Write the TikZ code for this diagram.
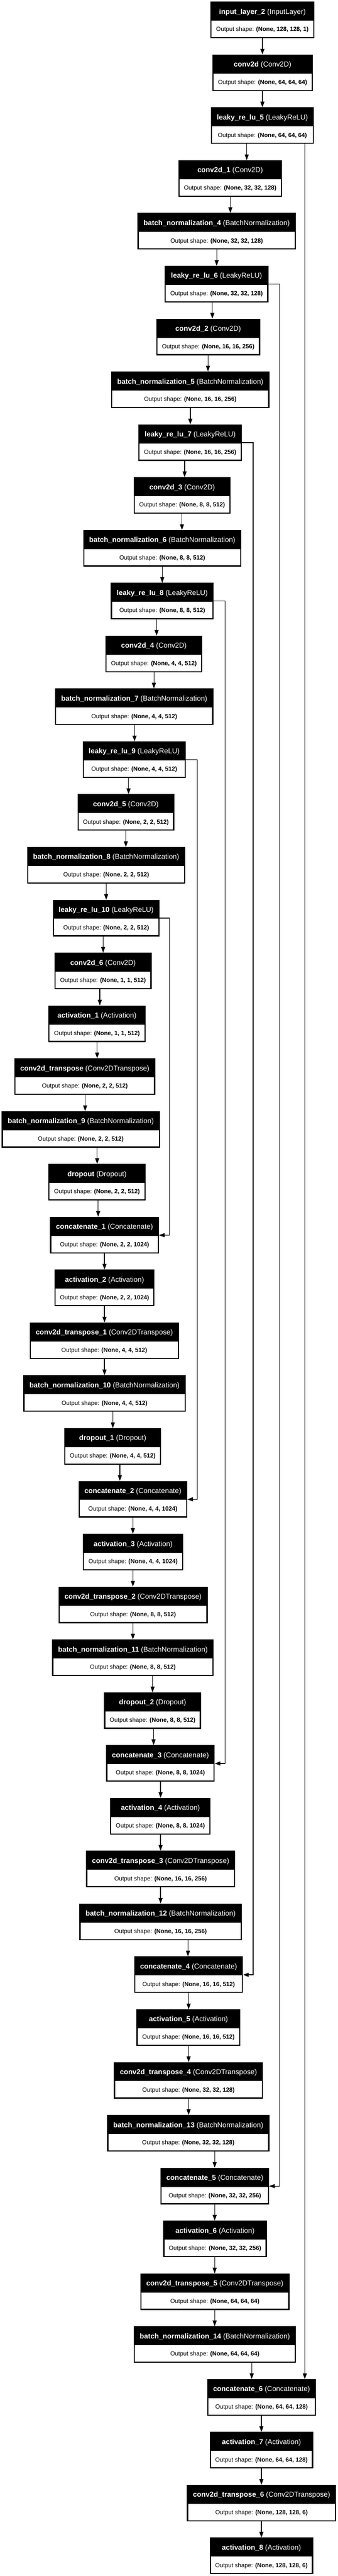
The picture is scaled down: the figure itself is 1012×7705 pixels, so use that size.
\documentclass[tikz,border=0pt]{standalone}
\usepackage{fontspec}
\setmainfont{Liberation Sans}
\usetikzlibrary{arrows.meta}
\tikzset{
  lbox/.style={fill=black, draw=none, inner sep=0pt, outer sep=0pt, minimum height=109.5pt, anchor=north west},
  htext/.style={text=white, inner sep=0pt, outer sep=0pt, font=\fontsize{21.4}{25}\selectfont, anchor=base},
  btext/.style={text=black, inner sep=0pt, outer sep=0pt, font=\fontsize{18}{22}\selectfont, anchor=base},
  arr/.style={draw=black, line width=2pt, -{Triangle[length=17pt,width=12pt]}},
}
\newcommand{\lyr}[7]{%
  \pgfmathsetmacro\lyrtop{5+158.02*(#4-1)}%
  \pgfmathsetmacro\lyrwid{#3-#2}%
  \node[lbox, minimum width=\lyrwid pt] (#1) at (#2,\lyrtop) {};
  \fill[white] ([xshift=3.5pt,yshift=-57pt]#1.north west) rectangle ([xshift=-3.5pt,yshift=3.5pt]#1.south east);
  \node[htext] (#1h) at ([yshift=-37pt]#1.north) {\textbf{#5} (#6)};
  \node[btext] (#1b) at ([yshift=-89pt]#1.north) {Output shape: \textbf{#7}};
}
\newcommand{\con}[3]{\draw[arr] (#1.south -| #3,0) -- (#2.north -| #3,0);}
\newcommand{\skipc}[5]{%
  \pgfmathsetmacro\skout{5+158.02*(#4-1)+54.5}%
  \pgfmathsetmacro\skin{5+158.02*(#5-1)+55}%
  \draw[arr] (#1.east |- 0,\skout) -| (#3,\skin) -- (#2.east |- 0,\skin);}
\begin{document}
\begin{tikzpicture}[x=1pt,y=-1pt]
\useasboundingbox (0,0) rectangle (1012,7705);
\lyr{inp}{630}{942}{1}{input\_layer\_2}{InputLayer}{(None, 128, 128, 1)}
\lyr{cv0}{636}{937}{2}{conv2d}{Conv2D}{(None, 64, 64, 64)}
\lyr{lr5}{632}{940}{3}{leaky\_re\_lu\_5}{LeakyReLU}{(None, 64, 64, 64)}
\lyr{cv1}{534}{845}{4}{conv2d\_1}{Conv2D}{(None, 32, 32, 128)}
\lyr{bn4}{412}{886}{5}{batch\_normalization\_4}{BatchNormalization}{(None, 32, 32, 128)}
\lyr{lr6}{493}{804}{6}{leaky\_re\_lu\_6}{LeakyReLU}{(None, 32, 32, 128)}
\lyr{cv2}{468}{779}{7}{conv2d\_2}{Conv2D}{(None, 16, 16, 256)}
\lyr{bn5}{333}{807}{8}{batch\_normalization\_5}{BatchNormalization}{(None, 16, 16, 256)}
\lyr{lr7}{414}{725}{9}{leaky\_re\_lu\_7}{LeakyReLU}{(None, 16, 16, 256)}
\lyr{cv3}{400}{691}{10}{conv2d\_3}{Conv2D}{(None, 8, 8, 512)}
\lyr{bn6}{249}{723}{11}{batch\_normalization\_6}{BatchNormalization}{(None, 8, 8, 512)}
\lyr{lr8}{332}{640}{12}{leaky\_re\_lu\_8}{LeakyReLU}{(None, 8, 8, 512)}
\lyr{cv4}{316}{606}{13}{conv2d\_4}{Conv2D}{(None, 4, 4, 512)}
\lyr{bn7}{165}{639}{14}{batch\_normalization\_7}{BatchNormalization}{(None, 4, 4, 512)}
\lyr{lr9}{248}{556}{15}{leaky\_re\_lu\_9}{LeakyReLU}{(None, 4, 4, 512)}
\lyr{cv5}{232}{522}{16}{conv2d\_5}{Conv2D}{(None, 2, 2, 512)}
\lyr{bn8}{81}{555}{17}{batch\_normalization\_8}{BatchNormalization}{(None, 2, 2, 512)}
\lyr{lr10}{158}{478}{18}{leaky\_re\_lu\_10}{LeakyReLU}{(None, 2, 2, 512)}
\lyr{cv6}{163}{454}{19}{conv2d\_6}{Conv2D}{(None, 1, 1, 512)}
\lyr{ac1}{145}{436}{20}{activation\_1}{Activation}{(None, 1, 1, 512)}
\lyr{ct0}{43}{465}{21}{conv2d\_transpose}{Conv2DTranspose}{(None, 2, 2, 512)}
\lyr{bn9}{5}{479}{22}{batch\_normalization\_9}{BatchNormalization}{(None, 2, 2, 512)}
\lyr{dr0}{145}{436}{23}{dropout}{Dropout}{(None, 2, 2, 512)}
\lyr{cc1}{150}{476}{24}{concatenate\_1}{Concatenate}{(None, 2, 2, 1024)}
\lyr{ac2}{163}{463}{25}{activation\_2}{Activation}{(None, 2, 2, 1024)}
\lyr{ct1}{89}{536}{26}{conv2d\_transpose\_1}{Conv2DTranspose}{(None, 4, 4, 512)}
\lyr{bn10}{70}{556}{27}{batch\_normalization\_10}{BatchNormalization}{(None, 4, 4, 512)}
\lyr{dr1}{192}{483}{28}{dropout\_1}{Dropout}{(None, 4, 4, 512)}
\lyr{cc2}{235}{561}{29}{concatenate\_2}{Concatenate}{(None, 4, 4, 1024)}
\lyr{ac3}{248}{549}{30}{activation\_3}{Activation}{(None, 4, 4, 1024)}
\lyr{ct2}{175}{622}{31}{conv2d\_transpose\_2}{Conv2DTranspose}{(None, 8, 8, 512)}
\lyr{bn11}{156}{640}{32}{batch\_normalization\_11}{BatchNormalization}{(None, 8, 8, 512)}
\lyr{dr2}{312}{602}{33}{dropout\_2}{Dropout}{(None, 8, 8, 512)}
\lyr{cc3}{318}{643}{34}{concatenate\_3}{Concatenate}{(None, 8, 8, 1024)}
\lyr{ac4}{330}{631}{35}{activation\_4}{Activation}{(None, 8, 8, 1024)}
\lyr{ct3}{258}{704}{36}{conv2d\_transpose\_3}{Conv2DTranspose}{(None, 16, 16, 256)}
\lyr{bn12}{238}{724}{37}{batch\_normalization\_12}{BatchNormalization}{(None, 16, 16, 256)}
\lyr{cc4}{402}{728}{38}{concatenate\_4}{Concatenate}{(None, 16, 16, 512)}
\lyr{ac5}{409}{720}{39}{activation\_5}{Activation}{(None, 16, 16, 512)}
\lyr{ct4}{341}{788}{40}{conv2d\_transpose\_4}{Conv2DTranspose}{(None, 32, 32, 128)}
\lyr{bn13}{321}{807}{41}{batch\_normalization\_13}{BatchNormalization}{(None, 32, 32, 128)}
\lyr{cc5}{481}{806}{42}{concatenate\_5}{Concatenate}{(None, 32, 32, 256)}
\lyr{ac6}{489}{799}{43}{activation\_6}{Activation}{(None, 32, 32, 256)}
\lyr{ct5}{420}{867}{44}{conv2d\_transpose\_5}{Conv2DTranspose}{(None, 64, 64, 64)}
\lyr{bn14}{401}{886}{45}{batch\_normalization\_14}{BatchNormalization}{(None, 64, 64, 64)}
\lyr{cc6}{621}{946}{46}{concatenate\_6}{Concatenate}{(None, 64, 64, 128)}
\lyr{ac7}{628}{938}{47}{activation\_7}{Activation}{(None, 64, 64, 128)}
\lyr{ct6}{560}{1007}{48}{conv2d\_transpose\_6}{Conv2DTranspose}{(None, 128, 128, 6)}
\lyr{ac8}{628}{938}{49}{activation\_8}{Activation}{(None, 128, 128, 6)}
% sequential connectors
\con{inp}{cv0}{786}
\con{cv0}{lr5}{786}
\con{lr5}{cv1}{739}
\con{cv1}{bn4}{690}
\con{bn4}{lr6}{649}
\con{lr6}{cv2}{636}
\con{cv2}{bn5}{623}
\con{bn5}{lr7}{570}
\con{lr7}{cv3}{553}
\con{cv3}{bn6}{545}
\con{bn6}{lr8}{486}
\con{lr8}{cv4}{469}
\con{cv4}{bn7}{461}
\con{bn7}{lr9}{403}
\con{lr9}{cv5}{385}
\con{cv5}{bn8}{377}
\con{bn8}{lr10}{318}
\con{lr10}{cv6}{309}
\con{cv6}{ac1}{299}
\con{ac1}{ct0}{291}
\con{ct0}{bn9}{255}
\con{bn9}{dr0}{291}
\con{dr0}{cc1}{294}
\con{cc1}{ac2}{313}
\con{ac2}{ct1}{313}
\con{ct1}{bn10}{313}
\con{bn10}{dr1}{338}
\con{dr1}{cc2}{359}
\con{cc2}{ac3}{398}
\con{ac3}{ct2}{398}
\con{ct2}{bn11}{398}
\con{bn11}{dr2}{457}
\con{dr2}{cc3}{460}
\con{cc3}{ac4}{481}
\con{ac4}{ct3}{481}
\con{ct3}{bn12}{481}
\con{bn12}{cc4}{563}
\con{cc4}{ac5}{565}
\con{ac5}{ct4}{565}
\con{ct4}{bn13}{565}
\con{bn13}{cc5}{643}
\con{cc5}{ac6}{643}
\con{ac6}{ct5}{643}
\con{ct5}{bn14}{643}
\con{bn14}{cc6}{754}
\con{cc6}{ac7}{783}
\con{ac7}{ct6}{783}
\con{ct6}{ac8}{783}
% skip connectors
\draw[arr] (lr5.south -| 913,0) -- (cc6.north -| 913,0);
\skipc{lr6}{cc5}{837}{6}{42}
\skipc{lr7}{cc4}{758}{9}{38}
\skipc{lr8}{cc3}{674}{12}{34}
\skipc{lr9}{cc2}{591}{15}{29}
\skipc{lr10}{cc1}{508}{18}{24}
\end{tikzpicture}
\end{document}
